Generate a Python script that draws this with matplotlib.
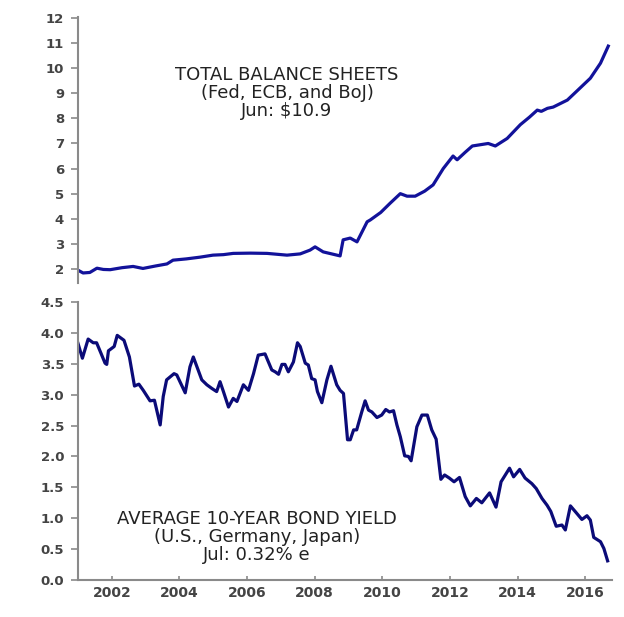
import matplotlib
matplotlib.use("Agg")
import matplotlib.pyplot as plt
import numpy as np

# Total balance sheets (Fed, ECB, BoJ), $ trillions
bs_years = [2001.0, 2001.15, 2001.35, 2001.56, 2001.75, 2001.95, 2002.3, 2002.63, 2002.92, 2003.3, 2003.63,
            2003.81, 2004.2, 2004.61, 2004.99, 2005.3, 2005.59, 2006.1, 2006.59, 2007.18, 2007.57,
            2007.86, 2008.01, 2008.25, 2008.5, 2008.75, 2008.84, 2009.05, 2009.25, 2009.55, 2009.64,
            2009.95, 2010.23, 2010.53, 2010.73, 2010.97, 2011.25, 2011.50, 2011.80, 2012.09, 2012.21,
            2012.45, 2012.66, 2013.13, 2013.34, 2013.69, 2014.08, 2014.35, 2014.58, 2014.7, 2014.88, 2015.05,
            2015.47, 2015.76, 2016.15, 2016.45, 2016.68]
bs_values = [1.95, 1.84, 1.86, 2.03, 1.98, 1.97, 2.05, 2.10, 2.02, 2.12, 2.20,
             2.35, 2.40, 2.47, 2.55, 2.57, 2.62, 2.63, 2.62, 2.55, 2.60,
             2.75, 2.88, 2.68, 2.60, 2.52, 3.16, 3.23, 3.08, 3.88, 3.95,
             4.25, 4.62, 5.00, 4.90, 4.90, 5.10, 5.35, 6.00, 6.50, 6.35,
             6.65, 6.90, 7.00, 6.90, 7.20, 7.75, 8.05, 8.33, 8.28, 8.40, 8.45,
             8.73, 9.10, 9.60, 10.20, 10.88]

# Average 10-year bond yield (U.S., Germany, Japan), %
by_years = [2001.0, 2001.13, 2001.30, 2001.45, 2001.55, 2001.68, 2001.80, 2001.85, 2001.90, 2002.07,
            2002.16, 2002.36, 2002.52, 2002.67, 2002.80, 2002.93, 2003.13, 2003.26, 2003.43, 2003.52,
            2003.62, 2003.84, 2003.92, 2004.17, 2004.31, 2004.41, 2004.66, 2004.81, 2004.96, 2005.10,
            2005.20, 2005.30, 2005.45, 2005.59, 2005.70, 2005.89, 2006.04, 2006.19, 2006.33, 2006.53,
            2006.73, 2006.83, 2006.93, 2007.03, 2007.12, 2007.22, 2007.37, 2007.49, 2007.57, 2007.72,
            2007.81, 2007.91, 2008.01, 2008.08, 2008.21, 2008.36, 2008.48, 2008.65, 2008.75, 2008.85,
            2008.97, 2009.05, 2009.15, 2009.24, 2009.39, 2009.49, 2009.59, 2009.69, 2009.84, 2009.98,
            2010.10, 2010.21, 2010.33, 2010.43, 2010.53, 2010.66, 2010.77, 2010.85, 2011.02, 2011.17,
            2011.33, 2011.46, 2011.59, 2011.73, 2011.84, 2011.98, 2012.12, 2012.28, 2012.45, 2012.60,
            2012.78, 2012.94, 2013.17, 2013.36, 2013.51, 2013.76, 2013.88, 2014.06, 2014.22, 2014.42,
            2014.55, 2014.72, 2014.87, 2014.98, 2015.14, 2015.31, 2015.41, 2015.56, 2015.70, 2015.90,
            2016.05, 2016.15, 2016.25, 2016.45, 2016.55, 2016.66]
by_values = [3.83, 3.59, 3.90, 3.84, 3.84, 3.67, 3.51, 3.49, 3.71, 3.78,
             3.96, 3.88, 3.61, 3.14, 3.17, 3.07, 2.90, 2.91, 2.51, 2.97,
             3.24, 3.34, 3.32, 3.03, 3.45, 3.61, 3.24, 3.16, 3.10, 3.05,
             3.21, 3.05, 2.80, 2.94, 2.89, 3.16, 3.07, 3.34, 3.64, 3.66,
             3.40, 3.37, 3.33, 3.49, 3.49, 3.37, 3.53, 3.84, 3.78, 3.51,
             3.48, 3.26, 3.24, 3.05, 2.87, 3.24, 3.46, 3.16, 3.07, 3.02,
             2.27, 2.27, 2.43, 2.43, 2.72, 2.90, 2.75, 2.72, 2.63, 2.67,
             2.76, 2.72, 2.74, 2.51, 2.32, 2.01, 2.00, 1.93, 2.48, 2.67,
             2.67, 2.43, 2.28, 1.63, 1.70, 1.65, 1.59, 1.66, 1.35, 1.20,
             1.32, 1.25, 1.41, 1.18, 1.59, 1.81, 1.67, 1.79, 1.65, 1.56,
             1.48, 1.32, 1.21, 1.11, 0.87, 0.89, 0.81, 1.20, 1.11, 0.98,
             1.04, 0.97, 0.69, 0.62, 0.51, 0.31]

x_ticks = [2002, 2004, 2006, 2008, 2010, 2012, 2014, 2016]
top_yticks = list(range(2, 13))
bot_yticks = [0.0, 0.5, 1.0, 1.5, 2.0, 2.5, 3.0, 3.5, 4.0, 4.5]

top_text = ["TOTAL BALANCE SHEETS", "(Fed, ECB, and BoJ)", "Jun: $10.9"]
bot_text = ["AVERAGE 10-YEAR BOND YIELD", "(U.S., Germany, Japan)", "Jul: 0.32% e"]

plt.rcParams['font.family'] = ['DejaVu Sans']

W, H = 624, 617
fig = plt.figure(figsize=(W / 100, H / 100), dpi=100)
fig.patch.set_facecolor('white')

xmin, xmax = 2001.0, 2016.79
spine_col = '#8a8a8a'
tick_col = '#444444'
text_col = '#222222'

def px_axes(left, top, right, bottom):
    return fig.add_axes([left / W, 1 - bottom / H, (right - left) / W, (bottom - top) / H])

ax1 = px_axes(78, 17, 612, 283)
ax2 = px_axes(78, 302, 612, 580)

ax1.plot(bs_years, bs_values, color='#12129a', lw=2.3, solid_joinstyle='round')
ax1.set_xlim(xmin, xmax)
ax1.set_ylim(1.44, 12.04)
ax1.set_yticks(top_yticks)
ax1.set_xticks([])
for s in ['top', 'right', 'bottom']:
    ax1.spines[s].set_visible(False)
ax1.spines['left'].set_color(spine_col)
ax1.spines['left'].set_linewidth(1.5)
ax1.tick_params(axis='y', direction='out', length=5, width=1.2, color=spine_col,
                labelsize=9.5, labelcolor=tick_col, pad=5)

ax2.plot(by_years, by_values, color='#0b0b78', lw=2.3, solid_joinstyle='round')
ax2.set_xlim(xmin, xmax)
ax2.set_ylim(0, 4.5)
ax2.set_yticks(bot_yticks)
ax2.set_yticklabels([f"{v:.1f}" for v in bot_yticks])
ax2.set_xticks(x_ticks)
ax2.set_xticklabels([str(v) for v in x_ticks])
for s in ['top', 'right']:
    ax2.spines[s].set_visible(False)
for s in ['left', 'bottom']:
    ax2.spines[s].set_color(spine_col)
    ax2.spines[s].set_linewidth(1.5)
ax2.tick_params(axis='y', direction='out', length=5, width=1.2, color=spine_col,
                labelsize=9.5, labelcolor=tick_col, pad=5)
ax2.tick_params(axis='x', direction='in', length=3, width=1.2, color=spine_col,
                labelsize=10, labelcolor=tick_col, pad=4)

for ax in (ax1, ax2):
    for lab in ax.get_xticklabels() + ax.get_yticklabels():
        lab.set_fontweight('bold')

# annotation text blocks (centres in pixels converted to figure fractions)
fig.text(287 / W, 1 - 93 / H, "\n".join(top_text), ha='center', va='center',
         multialignment='center', fontsize=13, linespacing=1.0, color=text_col)
fig.text(257 / W, 1 - 537 / H, "\n".join(bot_text), ha='center', va='center',
         multialignment='center', fontsize=13, linespacing=1.0, color=text_col)

fig.savefig('out.png', dpi=100, facecolor='white')
